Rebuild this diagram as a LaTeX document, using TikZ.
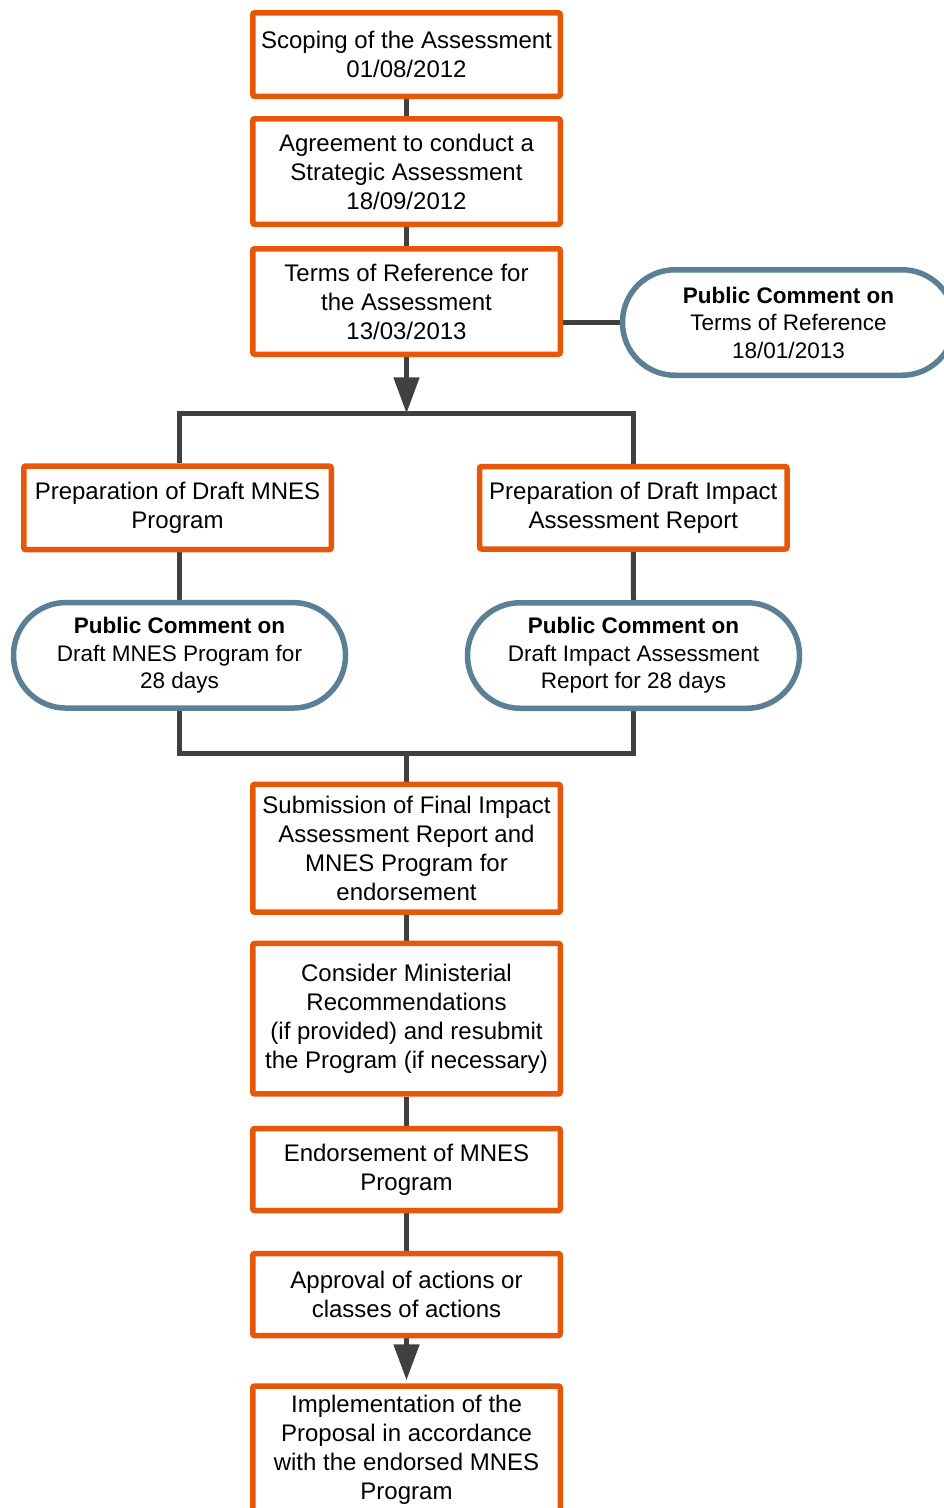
\documentclass[tikz,border=0pt]{standalone}
\usepackage{fontspec}
\setmainfont{Liberation Sans}
\usetikzlibrary{arrows.meta,backgrounds}
\definecolor{boxorange}{RGB}{232,86,10}
\definecolor{pcblue}{RGB}{91,127,148}
\definecolor{linegray}{RGB}{64,64,64}
\tikzset{
 stepbox/.style={draw=boxorange, line width=5.5pt, fill=white, rounded corners=2pt, inner sep=0pt, align=center, minimum width=307.5pt, font=\fontsize{24}{29}\selectfont},
 pcbox/.style={draw=pcblue, line width=5.5pt, fill=white, rounded corners=52.5pt, inner sep=0pt, align=center, minimum width=332pt, minimum height=105.5pt, font=\fontsize{22.5}{27.5}\selectfont},
 conn/.style={draw=linegray, line width=5pt},
 arr/.style={conn, -{Triangle[length=36pt,width=25pt]}},
}
\begin{document}
\begin{tikzpicture}[x=1pt,y=-1pt]
\useasboundingbox (0,0) rectangle (944,1508);
\clip (0,0) rectangle (944,1508);
\node[stepbox, minimum height=83.5pt] (b1) at (406.5,54.5) {Scoping of the Assessment\\01/08/2012};
\node[stepbox, minimum height=105.5pt] (b2) at (406.5,171.5) {Agreement to conduct a\\Strategic Assessment\\18/09/2012};
\node[stepbox, minimum height=105.5pt] (b3) at (406.5,301.5) {Terms of Reference for\\the Assessment\\13/03/2013};
\node[pcbox] (tor) at (788.5,322.5) {\textbf{Public Comment on}\\Terms of Reference\\18/01/2013};
\node[stepbox, minimum height=83.5pt] (bl) at (177.5,507.8) {Preparation of Draft MNES\\Program};
\node[stepbox, minimum height=82.5pt] (br) at (633.3,507.8) {Preparation of Draft Impact\\Assessment Report};
\node[pcbox] (pl) at (179.5,655.3) {\textbf{Public Comment on}\\Draft MNES Program for\\28 days};
\node[pcbox] (pr) at (633.5,655.5) {\textbf{Public Comment on}\\Draft Impact Assessment\\Report for 28 days};
\node[stepbox, minimum height=127.8pt] (b4) at (406.5,848.3) {Submission of Final Impact\\Assessment Report and\\MNES Program for\\endorsement};
\node[stepbox, minimum height=150.5pt] (b5) at (406.5,1018.7) {Consider Ministerial\\Recommendations\\(if provided) and resubmit\\the Program (if necessary)};
\node[stepbox, minimum height=82pt] (b6) at (406.5,1169.5) {Endorsement of MNES\\Program};
\node[stepbox, minimum height=82pt] (b7) at (406.5,1294.5) {Approval of actions or\\classes of actions};
\node[stepbox, minimum height=127pt] (b8) at (406.5,1449.5) {Implementation of the\\Proposal in accordance\\with the endorsed MNES\\Program};
\begin{pgfonlayer}{background}
\coordinate (split) at (406.5,413.3);
\coordinate (join) at (406.5,753.5);
\draw[conn] (b1) -- (b2);
\draw[conn] (b2) -- (b3);
\draw[conn] (b3.east |- tor.west) -- (tor.west);
\draw[arr] (b3.south) -- (split);
\draw[conn] (pl.north |- bl.north) -- (pl.north |- split) -- (pr.north |- split) -- (pr.north |- br.north);
\draw[conn] (pl.north |- bl.south) -- (pl.north);
\draw[conn] (br.south) -- (pr.north);
\draw[conn] (pl.south) -- (pl.south |- join) -- (pr.south |- join) -- (pr.south);
\draw[conn] (join) -- (b4);
\draw[conn] (b4) -- (b5);
\draw[conn] (b5) -- (b6);
\draw[conn] (b6) -- (b7);
\draw[arr, shorten >=3pt] (b7.south) -- (b8.north);
\end{pgfonlayer}
\end{tikzpicture}
\end{document}
